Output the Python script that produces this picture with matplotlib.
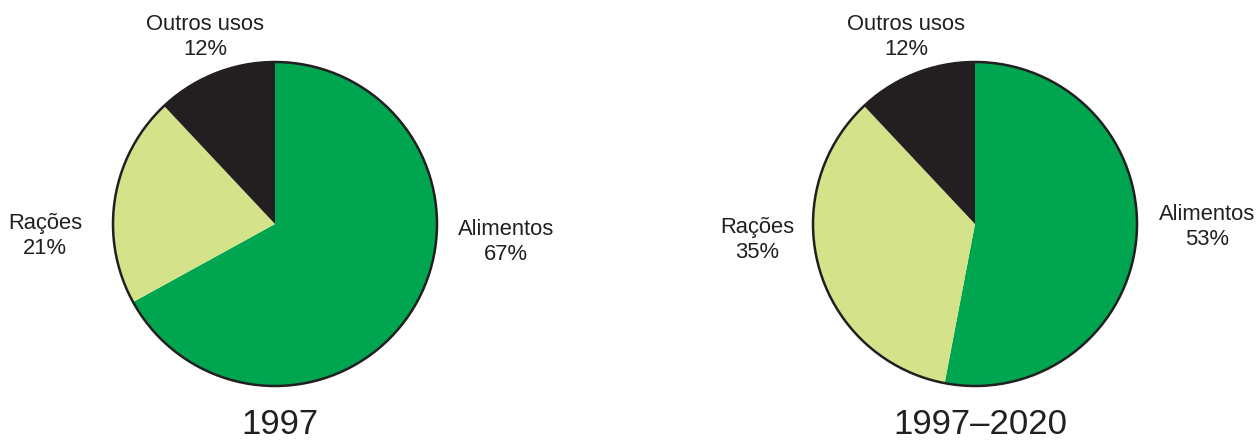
import matplotlib
matplotlib.use("Agg")
import matplotlib.pyplot as plt
from matplotlib.patches import Circle

plt.rcParams['font.family'] = ['Liberation Sans', 'DejaVu Sans']

categories = ["Alimentos", "Rações", "Outros usos"]
values_1997 = [67, 21, 12]
values_2020 = [53, 35, 12]
titles = ["1997", "1997–2020"]
colors = ["#00A550", "#D4E28A", "#231F20"]

W, H = 1258, 440
fig = plt.figure(figsize=(W / 100, H / 100), dpi=100)
ax = fig.add_axes([0, 0, 1, 1])

R = 162
centers = [(275, 224), (975, 224)]
label_pos = [
    {"Alimentos": (506, 242), "Rações": (45, 236), "Outros usos": (205, 37)},
    {"Alimentos": (1207, 227), "Rações": (757, 240), "Outros usos": (906, 37)},
]
title_pos = [(280, 424), (980, 424)]

for i, vals in enumerate([values_1997, values_2020]):
    cx, cy = centers[i]
    ax.pie(vals, colors=colors, startangle=-90, counterclock=True,
           center=(cx, cy), radius=R, frame=True,
           wedgeprops=dict(linewidth=0, edgecolor='none'))
    ax.add_patch(Circle((cx, cy), R, fill=False, edgecolor='#231F20', linewidth=1.8))
    for cat, v in zip(categories, vals):
        x, y = label_pos[i][cat]
        ax.text(x, y, f"{cat}\n{v}%", ha='center', va='center', fontsize=15.8,
                color='#231F20', linespacing=1.25)
    tx, ty = title_pos[i]
    ax.text(tx, ty, titles[i], ha='center', va='center', fontsize=25, color='#231F20')

ax.set_xlim(0, W)
ax.set_ylim(H, 0)
ax.set_aspect('equal')
ax.axis('off')
fig.savefig("out.png", dpi=100)
